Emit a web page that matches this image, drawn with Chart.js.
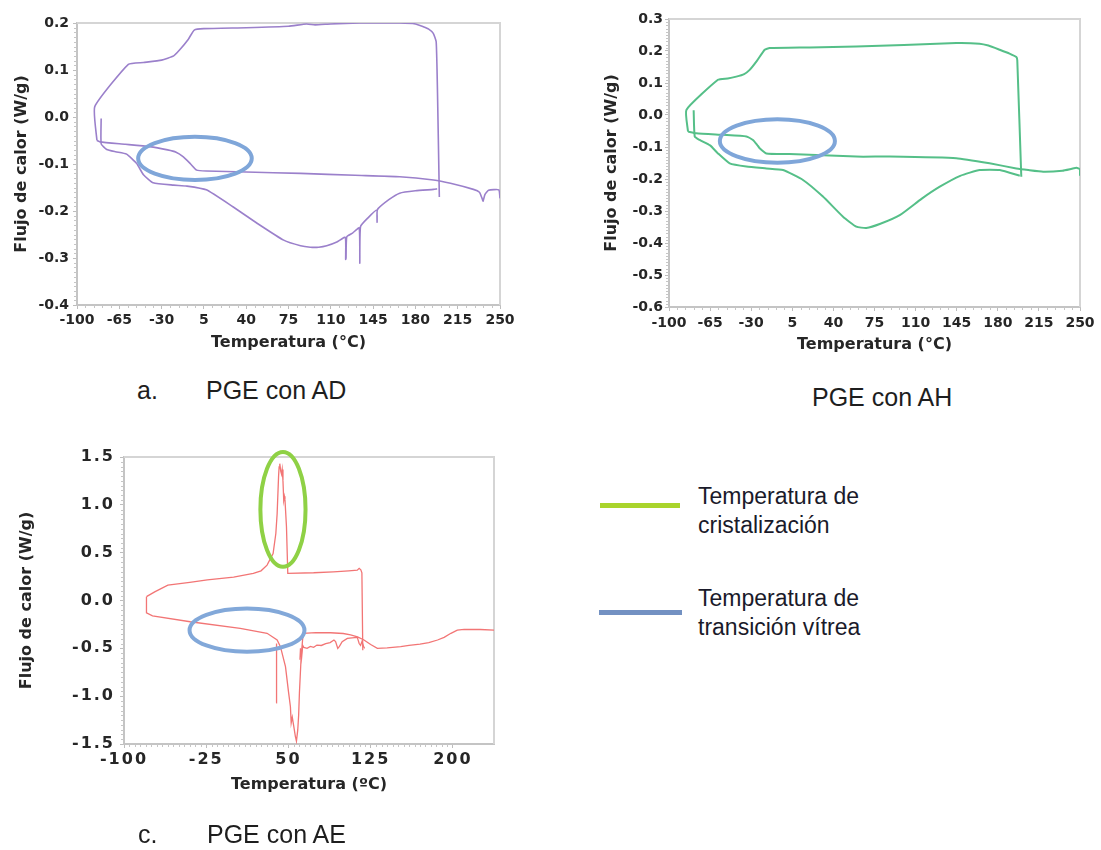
<!DOCTYPE html>
<html>
<head>
<meta charset="utf-8">
<script src="https://cdn.jsdelivr.net/npm/chart.js@4.4.1/dist/chart.umd.min.js"></script>
<style>
  html, body { margin: 0; padding: 0; background: #ffffff; }
  body { width: 1101px; height: 850px; position: relative; overflow: hidden; font-family: "Liberation Sans", Arial, sans-serif; }
  canvas { position: absolute; }
  .cap { position: absolute; font-size: 25px; color: #1e1e1e; white-space: nowrap; line-height: 1; }
  .leg { position: absolute; font-size: 23px; color: #1a1a2a; line-height: 29px; white-space: nowrap; }
  .legline { position: absolute; height: 5px; }
</style>
</head>
<body>
<canvas id="chA" width="520" height="360" style="left:0px;top:0px;"></canvas>
<canvas id="chB" width="511" height="360" style="left:590px;top:0px;"></canvas>
<canvas id="chC" width="520" height="410" style="left:0px;top:440px;"></canvas>

<div class="cap" style="left:137px;top:378px;">a.</div>
<div class="cap" style="left:206px;top:378px;">PGE con AD</div>
<div class="cap" style="left:812px;top:385px;">PGE con AH</div>
<div class="cap" style="left:138px;top:822px;">c.</div>
<div class="cap" style="left:207px;top:822px;">PGE con AE</div>

<div class="legline" style="left:600px;top:503px;width:80px;background:#a9d42c;"></div>
<div class="leg" style="left:698px;top:482px;">Temperatura de<br>cristalización</div>
<div class="legline" style="left:599px;top:610px;width:83px;background:#7391c2;"></div>
<div class="leg" style="left:698px;top:584px;">Temperatura de<br>transición vítrea</div>

<script>
// ---------------- Panel a: PGE con AD ----------------
const aTicksX = [-100, -65, -30, 5, 40, 75, 110, 145, 180, 215, 250];
const aTicksY = [-0.4, -0.3, -0.2, -0.1, 0.0, 0.1, 0.2];
const aUpperT = [-83.5, -85.3, -57.5, -45, -30, -20, -15, -8, -3, 5, 40, 75, 90, 97, 110, 134, 167, 180, 186.5, 191, 194.8, 197.2, 198.3, 199.8];
const aUpperQ = [-0.05, 0.022, 0.112, 0.116, 0.121, 0.13, 0.143, 0.165, 0.185, 0.188, 0.19, 0.193, 0.198, 0.196, 0.198, 0.2, 0.2, 0.198, 0.192, 0.187, 0.178, 0.16, 0.05, -0.17];
const aTgT = [-83.5, -81, -60, -40, -25, -18, -12, -6, -1, 7, 40, 85, 130, 167, 195, 209, 228, 233, 235, 236, 237.5, 240.5, 249, 250];
const aTgQ = [-0.05, -0.053, -0.058, -0.063, -0.07, -0.075, -0.085, -0.1, -0.113, -0.115, -0.117, -0.12, -0.124, -0.127, -0.134, -0.141, -0.154, -0.16, -0.172, -0.179, -0.165, -0.156, -0.155, -0.173];
const aLowT = [-80, -80, -75.4, -68, -59, -50.6, -45, -37, -20, -9, 7, 29, 49, 71, 85, 93, 100, 106.6, 115, 122, 122.3, 122.6, 123.2, 128, 133.5, 134, 134.6, 141, 148, 148.3, 148.6, 158, 167, 180, 195, 198];
const aLowQ = [-0.003, -0.057, -0.069, -0.074, -0.079, -0.099, -0.123, -0.14, -0.145, -0.147, -0.155, -0.191, -0.226, -0.262, -0.274, -0.277, -0.277, -0.274, -0.266, -0.256, -0.303, -0.3, -0.255, -0.247, -0.236, -0.311, -0.233, -0.214, -0.198, -0.224, -0.197, -0.176, -0.162, -0.157, -0.154, -0.153];
const aEllipses = [{ cx: -2.4, cy: -0.088, rx: 47, ry: 0.046 }];

// ---------------- Panel b: PGE con AH ----------------
const bTicksX = [-100, -65, -30, 5, 40, 75, 110, 145, 180, 215, 250];
const bTicksY = [-0.6, -0.5, -0.4, -0.3, -0.2, -0.1, 0.0, 0.1, 0.2, 0.3];
const bUpperT = [-83.8, -85.2, -58.3, -50, -42.7, -36, -31.3, -25, -18.5, -14.3, 20, 59.5, 100, 144.7, 164.5, 172, 181.6, 190, 195.8, 196.6, 200];
const bUpperQ = [-0.052, 0.016, 0.11, 0.114, 0.12, 0.128, 0.141, 0.17, 0.204, 0.209, 0.211, 0.214, 0.219, 0.225, 0.223, 0.217, 0.204, 0.192, 0.181, 0.17, -0.193];
const bTgT = [-83.8, -76.7, -54, -34.1, -28.5, -25, -22.8, -17.1, 2.8, 59.5, 88, 144.7, 173, 195.8, 206, 218.6, 235, 243, 247, 250, 250];
const bTgQ = [-0.052, -0.057, -0.062, -0.067, -0.078, -0.093, -0.104, -0.12, -0.122, -0.13, -0.13, -0.135, -0.151, -0.167, -0.172, -0.177, -0.174, -0.168, -0.165, -0.17, -0.19];
const bLowT = [-79, -78.1, -73.9, -65, -58.3, -48.3, -34.1, -17.1, -2.9, 14.1, 31.1, 48.2, 59.5, 68, 80, 96.5, 115, 130.6, 148, 164.6, 181.7, 198.7];
const bLowQ = [0.015, -0.067, -0.078, -0.095, -0.12, -0.151, -0.161, -0.167, -0.172, -0.203, -0.255, -0.318, -0.349, -0.353, -0.34, -0.313, -0.262, -0.224, -0.19, -0.172, -0.172, -0.19];
const bEllipses = [{ cx: -7.7, cy: -0.081, rx: 49, ry: 0.068 }];

// ---------------- Panel c: PGE con AE ----------------
const cTicksX = [-100, -25, 50, 125, 200];
const cTicksY = [-1.5, -1.0, -0.5, 0.0, 0.5, 1.0, 1.5];
const cUpperT = [-79.5, -72, -60, -40, -24, 0, 18, 25, 30.5, 36, 38.5, 39.7, 41, 41.5, 42.1, 43, 43.7, 44.3, 45, 45.7, 46.3, 46.8, 48.2, 49.4, 73, 91, 105, 112.8, 114.5, 116, 117, 117.8];
const cUpperQ = [0.04, 0.09, 0.16, 0.19, 0.215, 0.245, 0.283, 0.31, 0.37, 0.49, 0.7, 0.909, 1.3, 1.396, 1.43, 1.35, 1.32, 1.37, 1.25, 1.048, 1.09, 1.06, 0.77, 0.283, 0.29, 0.3, 0.31, 0.317, 0.336, 0.32, 0.29, -0.52];
const cLowT = [-79.5, -79.5, -74, -39.6, 6, 30.5, 39.7, 42.7, 47.3, 50, 51.8, 52.5, 53.5, 54.9, 56.3, 57.3, 58.5, 59.3, 60, 61.6, 63.4, 75, 88.4, 100, 106.7, 113, 118.9, 125, 131.1, 140, 152.4, 160, 170, 178, 186, 192, 198.2, 204, 210.3, 225, 237.8];
const cLowQ = [0.04, -0.13, -0.16, -0.222, -0.291, -0.343, -0.413, -0.483, -0.692, -0.95, -1.11, -1.28, -1.22, -1.318, -1.42, -1.47, -1.353, -1.2, -0.97, -0.588, -0.343, -0.335, -0.337, -0.345, -0.36, -0.38, -0.413, -0.46, -0.5, -0.495, -0.483, -0.47, -0.455, -0.44, -0.413, -0.385, -0.343, -0.31, -0.302, -0.303, -0.309];
const cSpikeT = [38.8, 39.0, 39.3];
const cSpikeQ = [-1.07, -0.7, -0.45];
const cWigT = [60.5, 61, 62, 63, 64, 67, 70, 73, 76, 80, 84, 88, 91.5, 93, 95, 96.5, 99, 103.7, 108, 112.8, 114.5, 115.8, 117, 118.9, 119.5];
const cWigQ = [-0.62, -0.5, -0.6, -0.47, -0.49, -0.5, -0.48, -0.49, -0.466, -0.47, -0.45, -0.44, -0.413, -0.43, -0.5, -0.48, -0.43, -0.396, -0.39, -0.386, -0.45, -0.47, -0.43, -0.49, -0.5];
const cEllipses = [
  { cx: 45, cy: 0.952, rx: 20.6, ry: 0.6, kind: 'cryst' },
  { cx: 12.2, cy: -0.31, rx: 52.4, ry: 0.226, kind: 'tg' }
];

function pts(T, Q) { return T.map((t, i) => ({ x: t, y: Q[i] })); }

const ellipsePlugin = {
  id: 'ellipses',
  afterDatasetsDraw(chart, args, opts) {
    const ctx = chart.ctx, xs = chart.scales.x, ys = chart.scales.y;
    (opts.items || []).forEach(e => {
      const cx = xs.getPixelForValue(e.cx), cy = ys.getPixelForValue(e.cy);
      const rx = Math.abs(xs.getPixelForValue(e.cx + e.rx) - cx);
      const ry = Math.abs(ys.getPixelForValue(e.cy + e.ry) - cy);
      ctx.save();
      ctx.beginPath();
      ctx.ellipse(cx, cy, rx, ry, 0, 0, Math.PI * 2);
      ctx.lineWidth = opts.width || 4;
      ctx.strokeStyle = (opts.colors && opts.colors[e.kind]) || '#7fa6d9';
      ctx.stroke();
      ctx.restore();
    });
  }
};

// light frame on top/right plus fine minor tick marks along the axes (placed through the scales)
const framePlugin = {
  id: 'frame',
  beforeDatasetsDraw(chart, args, opts) {
    const { ctx, chartArea: a } = chart;
    const xs = chart.scales.x, ys = chart.scales.y;
    ctx.save();
    ctx.strokeStyle = opts.color || '#d3d3d3';
    ctx.lineWidth = 2;
    ctx.beginPath();
    ctx.moveTo(a.left, a.top); ctx.lineTo(a.right, a.top); ctx.lineTo(a.right, a.bottom);
    ctx.stroke();
    ctx.strokeStyle = opts.minorColor || '#c9c9c9';
    ctx.lineWidth = 1;
    ctx.beginPath();
    const ny = opts.yMinorPerMajor || 10, nx = opts.xMinorPerMajor || 5;
    const yt = ys.ticks.map(t => t.value), xt = xs.ticks.map(t => t.value);
    for (let i = 0; i < yt.length - 1; i++) {
      for (let k = 1; k < ny; k++) {
        const p = Math.round(ys.getPixelForValue(yt[i] + (yt[i + 1] - yt[i]) * k / ny)) + 0.5;
        ctx.moveTo(a.left - 3, p); ctx.lineTo(a.left, p);
      }
    }
    for (let i = 0; i < xt.length - 1; i++) {
      for (let k = 1; k < nx; k++) {
        const p = Math.round(xs.getPixelForValue(xt[i] + (xt[i + 1] - xt[i]) * k / nx)) + 0.5;
        ctx.moveTo(p, a.bottom); ctx.lineTo(p, a.bottom + 3);
      }
    }
    ctx.stroke();
    ctx.restore();
  }
};

const spacingPlugin = {
  id: 'spacing',
  afterDatasetsDraw(chart, args, opts) { if (opts.value) chart.ctx.letterSpacing = opts.value; },
  afterDraw(chart, args, opts) { if (opts.value) chart.ctx.letterSpacing = '0px'; }
};

function makePanel(id, cfg) {
  const tickFont = { family: 'DejaVu Sans', weight: 'bold', size: cfg.tickSize };
  const titleFont = { family: 'DejaVu Sans', weight: 'bold', size: 16 };
  new Chart(document.getElementById(id), {
    type: 'scatter',
    data: {
      datasets: cfg.series.map(s => ({
        data: s,
        showLine: true,
        borderColor: cfg.color,
        borderWidth: cfg.lineWidth,
        pointRadius: 0,
        tension: cfg.tension,
        fill: false
      }))
    },
    options: {
      responsive: false,
      animation: false,
      devicePixelRatio: 1,
      layout: { padding: cfg.padding },
      plugins: {
        legend: { display: false },
        tooltip: { enabled: false },
        ellipses: { items: cfg.ellipses, width: 4, colors: { tg: '#82a8d9', cryst: '#8fd145' } },
        frame: { color: '#d5d5d5', minorColor: '#c6c6c6', yMinorPerMajor: cfg.yMinor, xMinorPerMajor: cfg.xMinor },
        spacing: { value: cfg.spacing }
      },
      scales: {
        x: {
          type: 'linear',
          min: cfg.xMin, max: cfg.xMax,
          afterBuildTicks: s => { s.ticks = cfg.ticksX.map(v => ({ value: v })); },
          afterFit: s => { s.height = cfg.xH; },
          grid: { display: true, drawOnChartArea: false, drawTicks: true, tickLength: 4, color: '#bdbdbd' },
          border: { display: true, color: '#c4c4c4', width: 2 },
          ticks: { font: tickFont, color: '#262626', padding: cfg.xPad, maxRotation: 0, autoSkip: false, z: cfg.tickZ,
                   callback: v => String(v) },
          title: { display: true, text: cfg.xTitle, font: titleFont, color: '#262626', padding: { top: 0, bottom: cfg.xTitlePad } }
        },
        y: {
          type: 'linear',
          min: cfg.yMin, max: cfg.yMax,
          afterBuildTicks: s => { s.ticks = cfg.ticksY.map(v => ({ value: v })); },
          afterFit: s => { s.width = cfg.yW; },
          grid: { display: true, drawOnChartArea: false, drawTicks: true, tickLength: 4, color: '#bdbdbd' },
          border: { display: true, color: '#c4c4c4', width: 2 },
          ticks: { font: tickFont, color: '#262626', padding: cfg.yPad, autoSkip: false, z: cfg.tickZ,
                   callback: v => Number(v).toFixed(1) },
          title: { display: true, text: 'Flujo de calor (W/g)', font: titleFont, color: '#262626', padding: { top: cfg.yTitlePad, bottom: 0 } }
        }
      }
    },
    plugins: [ellipsePlugin, framePlugin, spacingPlugin]
  });
}

makePanel('chA', {
  series: [pts(aUpperT, aUpperQ), pts(aTgT, aTgQ), pts(aLowT, aLowQ)],
  color: '#9b80cb', lineWidth: 1.6, tension: 0.15,
  xMin: -100, xMax: 250, yMin: -0.4, yMax: 0.2,
  ticksX: aTicksX, ticksY: aTicksY, ellipses: aEllipses,
  padding: { left: 0, top: 23, right: 20, bottom: 0 },
  xH: 55, yW: 77, xPad: 2.6, yPad: 4, tickSize: 14, tickZ: 0, spacing: null, yMinor: 10, xMinor: 5,
  xTitle: 'Temperatura (°C)', xTitlePad: 7.4, yTitlePad: 12.4
});

makePanel('chB', {
  series: [pts(bUpperT, bUpperQ), pts(bTgT, bTgQ), pts(bLowT, bLowQ)],
  color: '#55bf88', lineWidth: 2, tension: 0.15,
  xMin: -100, xMax: 250, yMin: -0.6, yMax: 0.3,
  ticksX: bTicksX, ticksY: bTicksY, ellipses: bEllipses,
  padding: { left: 0, top: 19, right: 21, bottom: 0 },
  xH: 53, yW: 79, xPad: 3.6, yPad: 2, tickSize: 14, tickZ: 0, spacing: null, yMinor: 10, xMinor: 5,
  xTitle: 'Temperatura (°C)', xTitlePad: 5.4, yTitlePad: 12.1
});

makePanel('chC', {
  series: [pts(cUpperT, cUpperQ), pts(cLowT, cLowQ), pts(cSpikeT, cSpikeQ), pts(cWigT, cWigQ)],
  color: '#f27575', lineWidth: 1.3, tension: 0,
  xMin: -100, xMax: 237.5, yMin: -1.5, yMax: 1.5,
  ticksX: cTicksX, ticksY: cTicksY, ellipses: cEllipses,
  padding: { left: 0, top: 17, right: 26, bottom: 0 },
  xH: 106, yW: 124, xPad: 2.4, yPad: 5, tickSize: 16, tickZ: 1, spacing: '2px', yMinor: 10, xMinor: 15,
  xTitle: 'Temperatura (ºC)', xTitlePad: 55.4, yTitlePad: 17.4
});
</script>
</body>
</html>
